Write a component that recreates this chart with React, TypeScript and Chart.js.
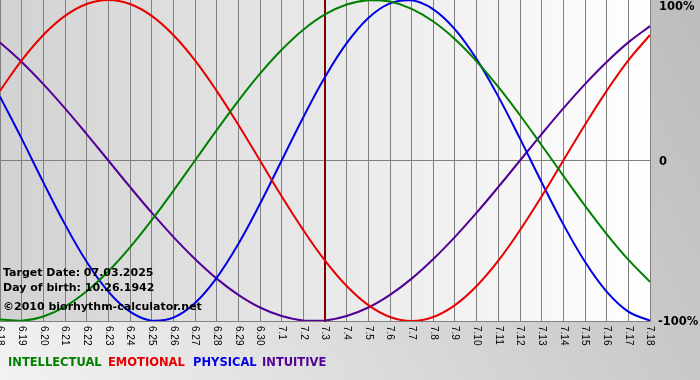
import React, { useEffect, useRef } from "react";
import { Chart, registerables } from "chart.js";

Chart.register(...registerables);

const dayLabels = [
  "6.18", "6.19", "6.20", "6.21", "6.22", "6.23", "6.24", "6.25", "6.26", "6.27", "6.28", "6.29", "6.30",
  "7.1", "7.2", "7.3", "7.4", "7.5", "7.6", "7.7", "7.8", "7.9", "7.10", "7.11", "7.12", "7.13", "7.14",
  "7.15", "7.16", "7.17", "7.18",
];

const intellectual = [
  -0.99, -0.999, -0.972, -0.91, -0.815, -0.69, -0.541, -0.372, -0.189, 0, 0.189, 0.372, 0.541,
  0.69, 0.815, 0.91, 0.972, 0.999, 0.99, 0.945, 0.866, 0.756, 0.618, 0.458, 0.282, 0.095, -0.095,
  -0.282, -0.458, -0.618, -0.756,
];

const emotional = [
  0.434, 0.624, 0.782, 0.901, 0.975, 1, 0.975, 0.901, 0.782, 0.624, 0.434, 0.223, 0,
  -0.223, -0.434, -0.624, -0.782, -0.901, -0.975, -1, -0.975, -0.901, -0.782, -0.624, -0.434, -0.223, 0,
  0.223, 0.434, 0.624, 0.782,
];

const physical = [
  0.398, 0.136, -0.136, -0.398, -0.631, -0.817, -0.942, -0.998, -0.979, -0.888, -0.731, -0.52, -0.27,
  0, 0.27, 0.52, 0.731, 0.888, 0.979, 0.998, 0.942, 0.817, 0.631, 0.398, 0.136, -0.136, -0.398,
  -0.631, -0.817, -0.942, -0.998,
];

const intuitive = [
  0.736, 0.614, 0.476, 0.325, 0.165, 0, -0.165, -0.325, -0.476, -0.614, -0.736, -0.837, -0.916,
  -0.969, -0.997, -0.997, -0.969, -0.916, -0.837, -0.736, -0.614, -0.476, -0.325, -0.165, 0, 0.165, 0.325,
  0.476, 0.614, 0.736, 0.837,
];

const seriesNames = ["INTELLECTUAL", "EMOTIONAL", "PHYSICAL", "INTUITIVE"];
const seriesColors = ["#008000", "#e80000", "#0000e6", "#520096"];
const yTickValues = [1, 0, -1];
const yTickLabels = ["100%", "0", "-100%"];
const targetDay = "7.3";
const infoLines = [
  "Target Date: 07.03.2025",
  "Day of birth: 10.26.1942",
  "\u00A92010 biorhythm-calculator.net",
];

const decorPlugin = {
  id: "decor",
  beforeDraw(chart: any) {
    const { ctx, chartArea: a, width, height } = chart;
    ctx.save();
    const bg = ctx.createLinearGradient(0, height, width, 0);
    bg.addColorStop(0, "#f2f2f2");
    bg.addColorStop(1, "#bcbcbc");
    ctx.fillStyle = bg;
    ctx.fillRect(0, 0, width, height);
    const pg = ctx.createLinearGradient(a.left, 0, a.right, 0);
    pg.addColorStop(0, "#d2d2d2");
    pg.addColorStop(1, "#ffffff");
    ctx.fillStyle = pg;
    ctx.fillRect(a.left, a.top, a.right - a.left, a.bottom - a.top);
    ctx.restore();
  },
  beforeDatasetsDraw(chart: any) {
    const { ctx, chartArea: a } = chart;
    const xs = chart.scales.x;
    const idx = dayLabels.indexOf(targetDay);
    const x = Math.round(xs.getPixelForValue(idx));
    ctx.save();
    ctx.strokeStyle = "#800000";
    ctx.lineWidth = 2;
    ctx.beginPath();
    ctx.moveTo(x, a.top);
    ctx.lineTo(x, a.bottom + 1);
    ctx.stroke();
    ctx.restore();
  },
  afterDraw(chart: any) {
    const { ctx, chartArea: a } = chart;
    const xs = chart.scales.x;
    const ys = chart.scales.y;
    ctx.save();
    ctx.fillStyle = "#000000";
    ctx.font = "10px 'Liberation Sans'";
    ctx.textAlign = "left";
    ctx.textBaseline = "middle";
    dayLabels.forEach((lab, i) => {
      const x = xs.getPixelForValue(i);
      ctx.save();
      ctx.translate(x, a.bottom + 5);
      ctx.rotate(Math.PI / 2);
      ctx.fillText(lab, 0, 0);
      ctx.restore();
    });
    ctx.font = "bold 11.5px 'DejaVu Sans'";
    ctx.textAlign = "left";
    ctx.textBaseline = "middle";
    yTickValues.forEach((v, i) => {
      let y = ys.getPixelForValue(v);
      y = Math.max(y, 7);
      if (v <= 0) y += 1.5;
      ctx.fillText(yTickLabels[i], a.right + (v < 0 ? 8 : 9), y);
    });
    ctx.font = "bold 11px 'DejaVu Sans'";
    ctx.textBaseline = "alphabetic";
    const infoY = [276, 291, 310];
    infoLines.forEach((t, i) => ctx.fillText(t, 3, infoY[i]));
    ctx.font = "bold 11.5px 'DejaVu Sans'";
    const legendX = [8, 108, 193, 262];
    chart.data.datasets.forEach((ds: any, i: number) => {
      ctx.fillStyle = ds.borderColor;
      ctx.fillText(ds.label, legendX[i], 366);
    });
    ctx.restore();
  },
};

export default function App() {
  const ref = useRef<HTMLCanvasElement | null>(null);
  useEffect(() => {
    document.body.style.margin = "0";
    const cv = ref.current;
    if (!cv) return;
    const seriesData = [intellectual, emotional, physical, intuitive];
    const chart = new Chart(cv, {
      type: "line",
      data: {
        labels: dayLabels,
        datasets: seriesData.map((d, i) => ({
          label: seriesNames[i],
          data: d,
          borderColor: seriesColors[i],
          backgroundColor: seriesColors[i],
          borderWidth: 2,
          pointRadius: 0,
          pointHoverRadius: 0,
          tension: 0.4,
          fill: false,
        })),
      },
      options: {
        responsive: false,
        animation: false,
        devicePixelRatio: 1,
        layout: { padding: { left: 0, top: 0, right: 50, bottom: 59 } },
        plugins: {
          legend: { display: false },
          tooltip: { enabled: false },
        },
        events: [],
        scales: {
          x: {
            type: "category",
            offset: false,
            ticks: { display: false },
            grid: { color: "#808080", lineWidth: 1, drawTicks: false },
            border: { display: true, color: "#808080" },
          },
          y: {
            min: -1,
            max: 1,
            ticks: { display: false, stepSize: 1 },
            grid: {
              drawTicks: false,
              color: (c: any) => (c.tick && c.tick.value === 0 ? "#808080" : "rgba(0,0,0,0)"),
            },
            border: { display: false },
          },
        },
      },
      plugins: [decorPlugin],
    });
    return () => chart.destroy();
  }, []);
  return (
    <div style={{ position: "fixed", left: 0, top: 0, width: 700, height: 380 }}>
      <canvas ref={ref} width={700} height={380} />
    </div>
  );
}
